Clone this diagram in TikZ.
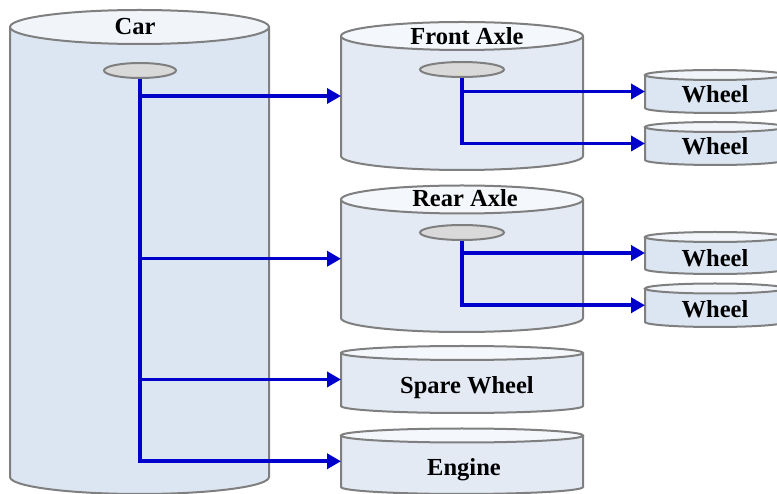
\documentclass[tikz,border=0pt]{standalone}
\usepackage{fontspec}
\setmainfont{Liberation Serif}
\usepackage{tikz}
\usetikzlibrary{arrows.meta,shapes.geometric}

\definecolor{drumbody}{HTML}{DCE6F2}
\definecolor{axlebody}{HTML}{E3EAF4}
\definecolor{hubgray}{HTML}{D9D9D9}
\definecolor{rimgray}{HTML}{7F7F7F}
\definecolor{linkblue}{HTML}{0000CC}

% name, centre x, x radius, top y, bottom y, y radius, fill, label x/baseline, label (y in pixels from the top)
\newcommand{\drum}[9]{%
  \node[drumbox,minimum width={2*#3},minimum height={#5-#4}] (#1) at ({#2},{493-(#4+#5)/2}) {};
  \fill[#7] (#1.north west) -- (#1.south west) arc[start angle=180,end angle=360,x radius=#3,y radius=#6] -- (#1.north east) -- cycle;
  \draw[rim] (#1.north west) -- (#1.south west) arc[start angle=180,end angle=360,x radius=#3,y radius=#6] -- (#1.north east);
  \draw[rim,fill=#7!40!white] (#1.north) ellipse[x radius=#3,y radius=#6];
  \foreach \lx/\ly in {#8} \node[drumlabel] (#1-text) at (\lx,{493-\ly}) {#9};
}

\begin{document}
\begin{tikzpicture}[x=1pt,y=1pt,
  drumbox/.style={rectangle,inner sep=0pt,outer sep=0pt},
  rim/.style={draw=rimgray,line width=2pt},
  drumlabel/.style={anchor=base,font=\bfseries\fontsize{24.5}{27}\selectfont},
  hub/.style={ellipse,draw=rimgray,line width=2pt,fill=hubgray,minimum height=15pt,inner sep=0pt},
  link/.style={draw=linkblue,line width=3.5pt,-{Triangle[length=14pt,width=15pt]}}]
  \useasboundingbox (0,0) rectangle (777,493);
  \drum{car}{139.5}{129.5}{27}{477}{17}{drumbody}{135/35}{Car}
  \drum{front}{462}{121}{36}{156}{14}{axlebody}{467/45}{Front Axle}
  \drum{rear}{462}{121}{199.5}{318}{14}{axlebody}{465/207}{Rear Axle}
  \drum{spare}{462}{121}{353}{406}{7}{axlebody}{467/394}{Spare Wheel}
  \drum{engine}{462}{121}{435.5}{487}{7}{axlebody}{464/476}{Engine}
  \drum{wheela}{715}{70}{75}{108}{5}{drumbody}{715/103}{Wheel}
  \drum{wheelb}{715}{70}{127}{160}{5}{drumbody}{715/155}{Wheel}
  \drum{wheelc}{715}{70}{237}{269}{5}{drumbody}{715/267}{Wheel}
  \drum{wheeld}{715}{70}{288.5}{322}{5}{drumbody}{715/318}{Wheel}
  % hubs
  \node[hub,minimum width=72pt] (carhub) at (140,{493-70.5}) {};
  \node[hub,minimum width=84pt] (fronthub) at (462,{493-69.5}) {};
  \node[hub,minimum width=84pt] (rearhub) at (462,{493-232.5}) {};
  % links
  \draw[link] (carhub.south) |- (front);
  \draw[link] (carhub.south) |- (rear);
  \draw[link] (carhub.south) |- (spare);
  \draw[link] (carhub.south) |- (engine);
  \draw[link] (fronthub.south) |- (wheela);
  \draw[link] (fronthub.south) |- (wheelb);
  \draw[link] (rearhub.south) |- (wheelc);
  \draw[link] (rearhub.south) |- (wheeld);
\end{tikzpicture}
\end{document}
